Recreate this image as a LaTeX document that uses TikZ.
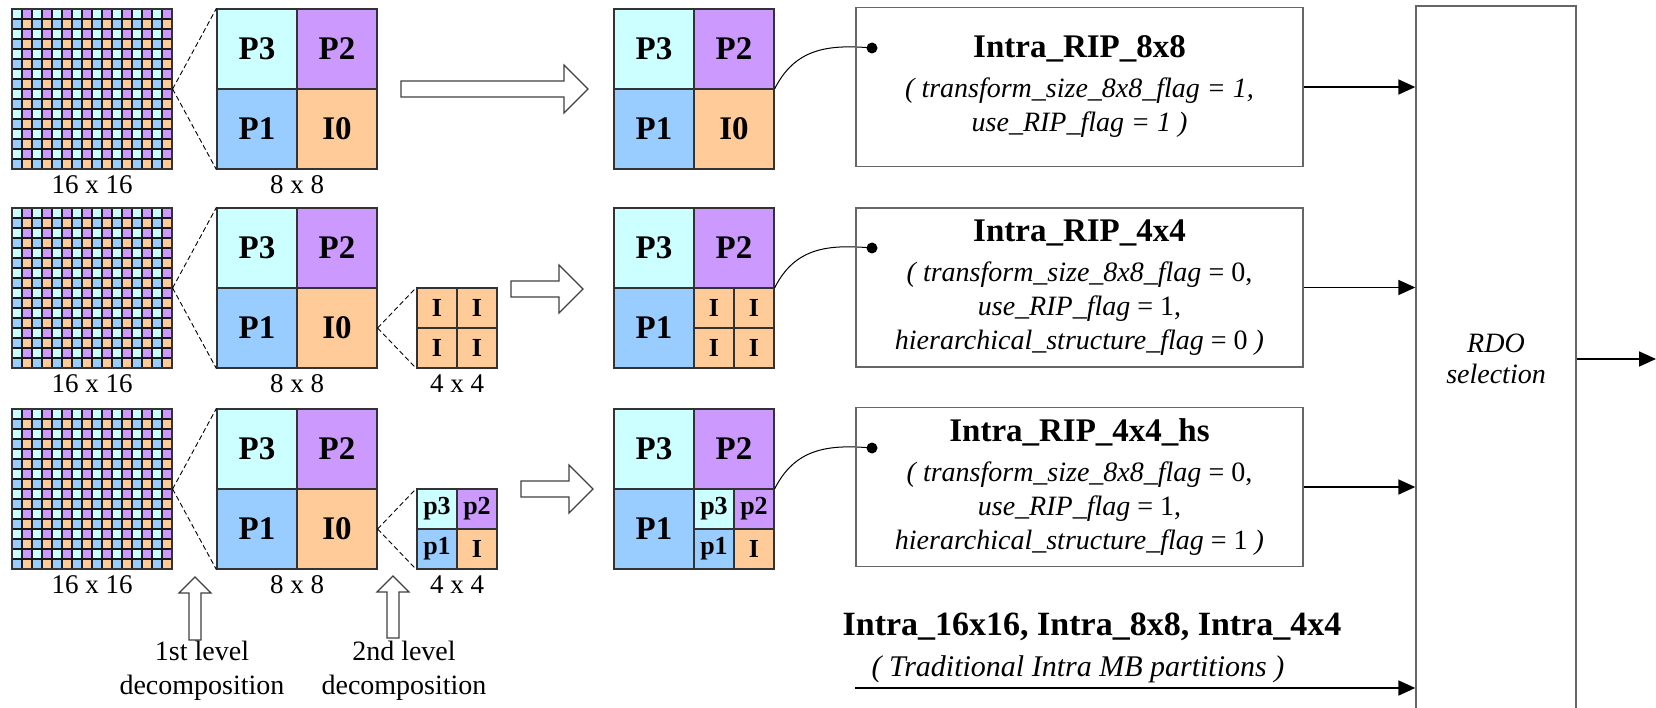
\documentclass[tikz,border=0pt]{standalone}
\usepackage{fontspec}
\setmainfont{Liberation Serif}
\usetikzlibrary{arrows.meta}
\definecolor{cPthree}{HTML}{CCFFFF}
\definecolor{cPtwo}{HTML}{CC99FF}
\definecolor{cPone}{HTML}{99CCFF}
\definecolor{cIzero}{HTML}{FFCC99}
\definecolor{edge}{HTML}{333333}
\definecolor{boxedge}{HTML}{666666}
\tikzset{
 cellL/.style={draw=edge, line width=1.2pt, minimum size=80pt, inner sep=0pt, font=\fontsize{33}{33}\selectfont\bfseries},
 cellS/.style={draw=edge, line width=1.2pt, minimum size=40pt, inner sep=0pt, font=\fontsize{26}{26}\selectfont\bfseries},
 outline/.style={draw=edge, line width=1.2pt, minimum size=160pt, inner sep=0pt},
 outlineS/.style={draw=edge, line width=1.2pt, minimum size=80pt, inner sep=0pt},
 gridln/.style={draw=black!90, line width=1.3pt},
 lab/.style={font=\fontsize{27}{34}\selectfont, inner sep=0pt, align=center},
 declab/.style={font=\fontsize{28}{34}\selectfont, inner sep=0pt, align=center},
 dashln/.style={dash pattern=on 5pt off 3pt, line width=0.9pt},
 blockarr/.style={draw=black!75, fill=white, line width=1.1pt},
 curveln/.style={line width=1pt},
 dotnode/.style={circle, fill=black, minimum size=11pt, inner sep=0pt},
 txtbox/.style={draw=boxedge, line width=1.4pt, minimum width=447pt, minimum height=159pt, align=center, inner sep=0pt, font=\fontsize{28}{34}\selectfont\itshape},
 feed/.style={line width=1.8pt, -{Triangle[length=17pt,width=15pt]}},
 rdo/.style={draw=boxedge, line width=1.4pt, minimum width=160pt, minimum height=706pt, align=center, inner sep=0pt, font=\fontsize{28}{31}\selectfont\itshape},
}
\newcommand\mytitle{\fontsize{33}{34}\selectfont\bfseries\upshape}
\newcommand\pixgrid[2]{%
 \foreach \i in {0,...,7}{\foreach \j in {0,...,7}{%
  \fill[cPthree] ({12+20*\i},{#2+20*\j}) rectangle ++(10,10);
  \fill[cPtwo] ({22+20*\i},{#2+20*\j}) rectangle ++(10,10);
  \fill[cPone] ({12+20*\i},{#2+10+20*\j}) rectangle ++(10,10);
  \fill[cIzero] ({22+20*\i},{#2+10+20*\j}) rectangle ++(10,10);
 }}
 \foreach \k in {1,...,15}{%
  \draw[gridln] ({12+10*\k},#2) -- ++(0,160);
  \draw[gridln] (12,{#2+10*\k}) -- ++(160,0);
 }
 \node[outline] (#1) at (92,{#2+80}) {};
}
% three big quadrants: name, left, top
\newcommand\threeP[3]{%
 \node[cellL,fill=cPthree] (#1-p3) at ({#2+40},{#3+40}) {P3};
 \node[cellL,fill=cPtwo] (#1-p2) at ({#2+120},{#3+40}) {P2};
 \node[cellL,fill=cPone] (#1-p1) at ({#2+40},{#3+120}) {P1};
}
\newcommand\izero[3]{\node[cellL,fill=cIzero] (#1-i0) at ({#2+120},{#3+120}) {I0};}
% four small cells: name, left, top of 80px region
\newcommand\fourI[3]{%
 \node[cellS,fill=cIzero] (#1-a) at ({#2+20},{#3+20}) {I};
 \node[cellS,fill=cIzero] (#1-b) at ({#2+60},{#3+20}) {I};
 \node[cellS,fill=cIzero] (#1-c) at ({#2+20},{#3+60}) {I};
 \node[cellS,fill=cIzero] (#1-d) at ({#2+60},{#3+60}) {I};
}
\newcommand\fourP[3]{%
 \node[cellS,fill=cPthree] (#1-a) at ({#2+20},{#3+20}) {p3};
 \node[cellS,fill=cPtwo] (#1-b) at ({#2+60},{#3+20}) {p2};
 \node[cellS,fill=cPone] (#1-c) at ({#2+20},{#3+60}) {p1};
 \node[cellS,fill=cIzero] (#1-d) at ({#2+60},{#3+60}) {I};
}
\newcommand\rarr[3]{\draw[blockarr] (#1,{#3-8}) -- ({#2-24},{#3-8}) -- ({#2-24},{#3-24}) -- (#2,#3) -- ({#2-24},{#3+24}) -- ({#2-24},{#3+8}) -- (#1,{#3+8}) -- cycle;}
\newcommand\uarr[3]{\draw[blockarr] ({#1-6},#3) -- ({#1-6},{#2+16}) -- ({#1-16},{#2+16}) -- (#1,#2) -- ({#1+16},{#2+16}) -- ({#1+6},{#2+16}) -- ({#1+6},#3) -- cycle;}
\begin{document}
\begin{tikzpicture}[x=1pt,y=-1pt]
\useasboundingbox (0,0) rectangle (1656,708);
% ---------- row 1 ----------
\pixgrid{g1}{9}
\node[lab] (g1l) at (92,185) {16 x 16};
\threeP{L1}{217}{9}\izero{L1}{217}{9}
\node[outline] (L1) at (297,89) {};
\node[lab] (L1l) at (297,185) {8 x 8};
\draw[dashln] (g1.east) -- (L1.north west);
\draw[dashln] (g1.east) -- (L1.south west);
\rarr{401}{588}{89}
\threeP{M1}{614}{9}\izero{M1}{614}{9}
\node[outline] (M1) at (694,89) {};
\node[dotnode] (D1) at (872,48) {};
\draw[curveln] (M1.east) .. controls +(20,-40) and +(-45,-4) .. (D1.center);
\node[txtbox] (T1) at (1079.5,87) {{\mytitle Intra\_RIP\_8x8}\\[6pt]( transform\_size\_8x8\_flag = 1,\\use\_RIP\_flag = 1 )};
% ---------- row 2 ----------
\pixgrid{g2}{208}
\node[lab] (g2l) at (92,384) {16 x 16};
\threeP{L2}{217}{208}\izero{L2}{217}{208}
\node[outline] (L2) at (297,288) {};
\node[lab] (L2l) at (297,384) {8 x 8};
\draw[dashln] (g2.east) -- (L2.north west);
\draw[dashln] (g2.east) -- (L2.south west);
\fourI{S2}{417}{288}
\node[outlineS] (S2) at (457,328) {};
\node[lab] (S2l) at (457,384) {4 x 4};
\draw[dashln] (L2-i0.east) -- (S2.north west);
\draw[dashln] (L2-i0.east) -- (S2.south west);
\rarr{511}{583}{289}
\threeP{M2}{614}{208}\fourI{M2s}{694}{288}
\node[outline] (M2) at (694,288) {};
\node[dotnode] (D2) at (872,248) {};
\draw[curveln] (M2.east) .. controls +(20,-40) and +(-45,-4) .. (D2.center);
\node[txtbox] (T2) at (1079.5,287.5) {{\mytitle Intra\_RIP\_4x4}\\[6pt]( transform\_size\_8x8\_flag \upshape= 0,\\use\_RIP\_flag \upshape= 1,\\hierarchical\_structure\_flag \upshape= 0 \itshape)};
% ---------- row 3 ----------
\pixgrid{g3}{409}
\node[lab] (g3l) at (92,585) {16 x 16};
\threeP{L3}{217}{409}\izero{L3}{217}{409}
\node[outline] (L3) at (297,489) {};
\node[lab] (L3l) at (297,585) {8 x 8};
\draw[dashln] (g3.east) -- (L3.north west);
\draw[dashln] (g3.east) -- (L3.south west);
\fourP{S3}{417}{489}
\node[outlineS] (S3) at (457,529) {};
\node[lab] (S3l) at (457,585) {4 x 4};
\draw[dashln] (L3-i0.east) -- (S3.north west);
\draw[dashln] (L3-i0.east) -- (S3.south west);
\rarr{521}{593}{489}
\threeP{M3}{614}{409}\fourP{M3s}{694}{489}
\node[outline] (M3) at (694,489) {};
\node[dotnode] (D3) at (872,448) {};
\draw[curveln] (M3.east) .. controls +(20,-40) and +(-45,-4) .. (D3.center);
\node[txtbox] (T3) at (1079.5,487) {{\mytitle Intra\_RIP\_4x4\_hs}\\[6pt]( transform\_size\_8x8\_flag \upshape= 0,\\use\_RIP\_flag \upshape= 1,\\hierarchical\_structure\_flag \upshape= 1 \itshape)};
% ---------- decomposition arrows ----------
\uarr{195}{577}{640}
\uarr{393}{576}{638}
\node[declab] (lev1) at (202,671) {1st level\\decomposition};
\node[declab] (lev2) at (404,671) {2nd level\\decomposition};
% ---------- RDO ----------
\node[rdo] (RDO) at (1496,359) {RDO\\selection};
\draw[feed] (T1.east) -- (T1.east -| RDO.west);
\draw[feed] (T2.east) -- (T2.east -| RDO.west);
\draw[feed] (T3.east) -- (T3.east -| RDO.west);
\coordinate (outp) at (1656,359);
\draw[feed] (RDO.east) -- (outp);
\node[font=\fontsize{34}{34}\selectfont\bfseries, inner sep=0pt] (trt) at (1092,627) {Intra\_16x16, Intra\_8x8, Intra\_4x4};
\node[font=\fontsize{30}{30}\selectfont\itshape, inner sep=0pt] (trs) at (1078,669) {( Traditional Intra MB partitions )};
\coordinate (trad) at (855,688);
\draw[feed] (trad) -- (trad -| RDO.west);
\end{tikzpicture}
\end{document}
